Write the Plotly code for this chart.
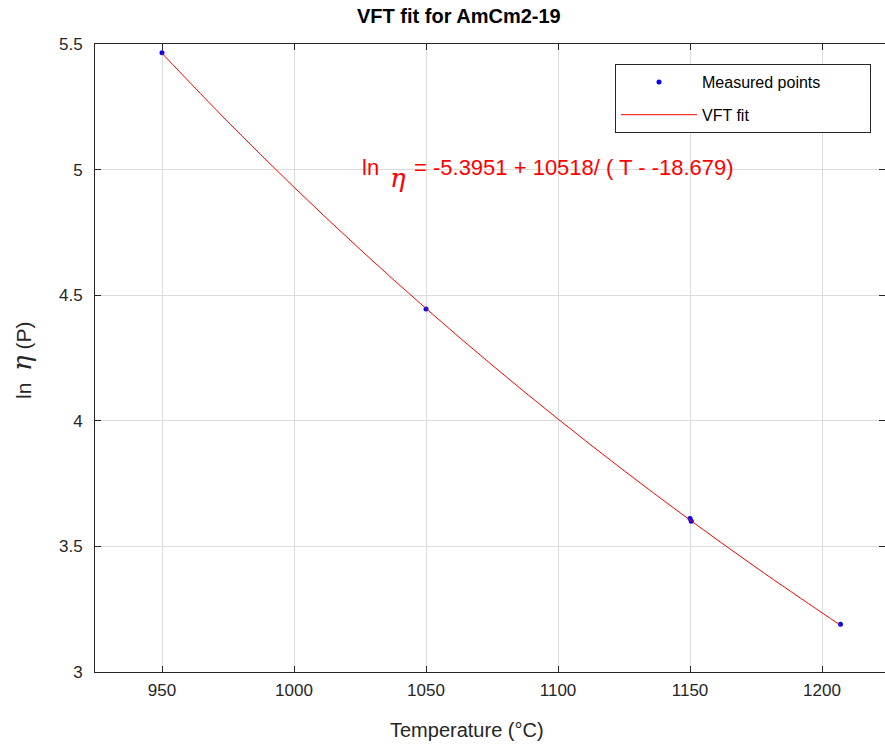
import plotly.graph_objects as go

# Measured points
temp_meas = [950, 1050, 1150, 1150.5, 1207]
ln_eta_meas = [5.465, 4.445, 3.611, 3.600, 3.19]

# VFT fit line values
temp_fit = [950, 975, 1000, 1025, 1050, 1075, 1100, 1125, 1150, 1175, 1200, 1207]
ln_eta_fit = [5.4630, 5.1898, 4.9300, 4.6827, 4.4470, 4.2220, 4.0071, 3.8015,
              3.6048, 3.4163, 3.2356, 3.1863]

x_ticks = [950, 1000, 1050, 1100, 1150, 1200]
y_ticks = [3, 3.5, 4, 4.5, 5, 5.5]
y_tick_labels = ["3", "3.5", "4", "4.5", "5", "5.5"]

W, H = 885, 747
# plot box in window pixels: left 95, top 44, right 885, bottom 672
L, T, R, B = 95, 44, 0, 747 - 672
PW, PH = W - L - R, H - T - B

def px(x):  # window px -> paper
    return (x - L) / PW

def py(y):
    return (H - B - y) / PH

FONT = "Liberation Sans, Arial, sans-serif"
AX = "#262626"
NB = "\u00a0"

fig = go.Figure()
fig.add_trace(go.Scatter(
    x=temp_meas, y=ln_eta_meas, mode="markers", name="Measured points" + NB * 10,
    marker=dict(color="#0000ff", size=5), legendgroup="a",
))
fig.add_trace(go.Scatter(
    x=temp_fit, y=ln_eta_fit, mode="lines", name="VFT fit",
    line=dict(color="#ff0000", width=1, shape="spline"), legendgroup="b",
))

fig.update_layout(
    width=W, height=H,
    margin=dict(l=L, r=R, t=T, b=B, autoexpand=False),
    paper_bgcolor="white", plot_bgcolor="white",
    font=dict(family=FONT, size=18, color=AX),
    showlegend=True,
    legend=dict(
        x=px(615), y=py(64), xanchor="left", yanchor="top",
        bgcolor="white", bordercolor=AX, borderwidth=1,
        font=dict(size=16, color="#000000"),
        itemwidth=76, tracegroupgap=9, traceorder="grouped",
    ),
    xaxis=dict(
        range=[924.62, 1223.86], tickvals=x_ticks,
        showgrid=True, gridcolor="#dcdcdc", gridwidth=1,
        showline=True, linecolor=AX, linewidth=1, mirror="ticks",
        ticks="inside", ticklen=6, tickcolor=AX,
        zeroline=False, tickfont=dict(size=17, color=AX),
        ticklabelstandoff=3, automargin=False,
    ),
    yaxis=dict(
        range=[3, 5.5], tickvals=y_ticks, ticktext=y_tick_labels,
        showgrid=True, gridcolor="#dcdcdc", gridwidth=1,
        showline=True, linecolor=AX, linewidth=1, mirror="ticks",
        ticks="inside", ticklen=6, tickcolor=AX,
        zeroline=False, tickfont=dict(size=17, color=AX),
        ticklabelstandoff=8, automargin=False,
    ),
)

fig.add_annotation(
    text="<b>VFT fit for AmCm2-19</b>", xref="paper", yref="paper",
    x=px(459), y=py(16), showarrow=False, xanchor="center", yanchor="middle",
    font=dict(size=20, color="#000000"),
)
fig.add_annotation(
    text="Temperature (°C)", xref="paper", yref="paper",
    x=px(467), y=py(730), showarrow=False, xanchor="center", yanchor="middle",
    font=dict(size=20, color=AX),
)
fig.add_annotation(
    text="ln  <span style='font-size:26px;font-family:DejaVu Serif'><i>η</i></span> (P)",
    xref="paper", yref="paper",
    x=px(22), y=py(361), showarrow=False, xanchor="center", yanchor="middle",
    textangle=-90, font=dict(size=21, color=AX),
)

# Equation text
fig.add_annotation(text="ln", xref="paper", yref="paper", x=px(360), y=py(167),
                   showarrow=False, xanchor="left", yanchor="middle",
                   font=dict(size=22, color="#ff0000"))
fig.add_annotation(text="<i>η</i>", xref="paper", yref="paper", x=px(388), y=py(178),
                   showarrow=False, xanchor="left", yanchor="middle",
                   font=dict(size=26, color="#ff0000", family="DejaVu Serif"))
fig.add_annotation(text="= -5.3951 + 10518/ ( T - -18.679)", xref="paper", yref="paper",
                   x=px(412), y=py(167), showarrow=False, xanchor="left", yanchor="middle",
                   font=dict(size=22, color="#ff0000"))

fig.write_html(
    "out.html",
    config={"displayModeBar": False},
    post_script="document.body.style.margin='0';document.body.style.overflow='hidden';"
                "document.documentElement.style.overflow='hidden';",
)
